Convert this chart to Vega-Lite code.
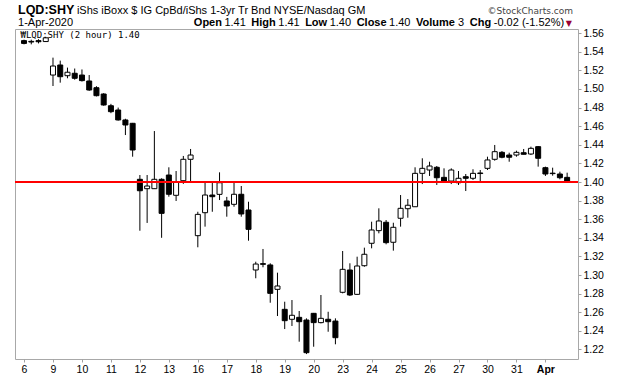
{
  "$schema": "https://vega.github.io/schema/vega-lite/v6.json",
  "width": 563,
  "height": 330,
  "autosize": {"type": "none"},
  "padding": {"left": 15, "top": 29, "right": 42, "bottom": 17},
  "background": "white",
  "config": {
    "view": {"stroke": "#a8a8a8", "strokeWidth": 1},
    "font": "Liberation Sans",
    "axis": {"labelOverlap": false, "labelBound": false, "labelFlush": false}
  },
  "datasets": {
    "one": [{}],
    "bars": [
      {"i":0,"o":1.552,"h":1.553,"l":1.548,"c":1.549},
      {"i":1,"o":1.5512,"h":1.553,"l":1.548,"c":1.5505},
      {"i":2,"o":1.552,"h":1.5535,"l":1.549,"c":1.5508},
      {"i":3,"o":1.551,"h":1.556,"l":1.5505,"c":1.555},
      {"i":4,"o":1.515,"h":1.5337,"l":1.5032,"c":1.5247},
      {"i":5,"o":1.5258,"h":1.5305,"l":1.5068,"c":1.5132},
      {"i":6,"o":1.5143,"h":1.523,"l":1.5115,"c":1.518},
      {"i":7,"o":1.5169,"h":1.522,"l":1.51,"c":1.5115},
      {"i":8,"o":1.515,"h":1.521,"l":1.508,"c":1.509},
      {"i":9,"o":1.5086,"h":1.515,"l":1.498,"c":1.4989},
      {"i":10,"o":1.5014,"h":1.503,"l":1.492,"c":1.4928},
      {"i":11,"o":1.4946,"h":1.4955,"l":1.482,"c":1.4828},
      {"i":12,"o":1.482,"h":1.484,"l":1.474,"c":1.4756},
      {"i":13,"o":1.4774,"h":1.48,"l":1.466,"c":1.4667},
      {"i":14,"o":1.4667,"h":1.468,"l":1.4505,"c":1.4613},
      {"i":15,"o":1.4631,"h":1.4635,"l":1.4272,"c":1.4344},
      {"i":16,"o":1.4029,"h":1.4075,"l":1.3476,"c":1.3906},
      {"i":17,"o":1.3928,"h":1.4075,"l":1.356,"c":1.3957},
      {"i":18,"o":1.3928,"h":1.4548,"l":1.3925,"c":1.4029},
      {"i":19,"o":1.4029,"h":1.404,"l":1.34,"c":1.3663},
      {"i":20,"o":1.4075,"h":1.4158,"l":1.3842,"c":1.3868},
      {"i":21,"o":1.3857,"h":1.4118,"l":1.3796,"c":1.4003},
      {"i":22,"o":1.4014,"h":1.428,"l":1.398,"c":1.4244},
      {"i":23,"o":1.4244,"h":1.4355,"l":1.4,"c":1.429},
      {"i":24,"o":1.3423,"h":1.368,"l":1.3298,"c":1.3652},
      {"i":25,"o":1.367,"h":1.399,"l":1.352,"c":1.386},
      {"i":26,"o":1.386,"h":1.399,"l":1.368,"c":1.3842},
      {"i":27,"o":1.3867,"h":1.4104,"l":1.3806,"c":1.3992},
      {"i":28,"o":1.3796,"h":1.384,"l":1.3627,"c":1.3742},
      {"i":29,"o":1.376,"h":1.399,"l":1.3734,"c":1.3868},
      {"i":30,"o":1.3868,"h":1.3957,"l":1.3627,"c":1.3656},
      {"i":31,"o":1.3699,"h":1.3788,"l":1.3369,"c":1.3491},
      {"i":32,"o":1.3054,"h":1.3143,"l":1.2965,"c":1.3118},
      {"i":33,"o":1.3122,"h":1.328,"l":1.3083,"c":1.3115},
      {"i":34,"o":1.3108,"h":1.3126,"l":1.2702,"c":1.2803},
      {"i":35,"o":1.2846,"h":1.3025,"l":1.2559,"c":1.2882},
      {"i":36,"o":1.2631,"h":1.2713,"l":1.2419,"c":1.2509},
      {"i":37,"o":1.2524,"h":1.2731,"l":1.2452,"c":1.2567},
      {"i":38,"o":1.2545,"h":1.2613,"l":1.2283,"c":1.2498},
      {"i":39,"o":1.2516,"h":1.2534,"l":1.215,"c":1.2165},
      {"i":40,"o":1.2588,"h":1.2592,"l":1.2229,"c":1.2488},
      {"i":41,"o":1.2488,"h":1.2785,"l":1.248,"c":1.2534},
      {"i":42,"o":1.2524,"h":1.2605,"l":1.239,"c":1.2498},
      {"i":43,"o":1.2505,"h":1.2534,"l":1.2255,"c":1.2326},
      {"i":44,"o":1.2814,"h":1.3258,"l":1.2803,"c":1.3061},
      {"i":45,"o":1.3054,"h":1.3126,"l":1.2774,"c":1.2785},
      {"i":46,"o":1.2792,"h":1.3197,"l":1.2785,"c":1.3097},
      {"i":47,"o":1.31,"h":1.3294,"l":1.3089,"c":1.3223},
      {"i":48,"o":1.3341,"h":1.3573,"l":1.3287,"c":1.3484},
      {"i":49,"o":1.3477,"h":1.3717,"l":1.3448,"c":1.3581},
      {"i":50,"o":1.3567,"h":1.3591,"l":1.333,"c":1.3348},
      {"i":51,"o":1.3352,"h":1.3562,"l":1.3262,"c":1.3513},
      {"i":52,"o":1.361,"h":1.386,"l":1.352,"c":1.3717},
      {"i":53,"o":1.3713,"h":1.3817,"l":1.3616,"c":1.375},
      {"i":54,"o":1.3734,"h":1.4158,"l":1.3734,"c":1.4093},
      {"i":55,"o":1.4093,"h":1.4255,"l":1.3978,"c":1.4147},
      {"i":56,"o":1.4129,"h":1.4218,"l":1.4065,"c":1.4172},
      {"i":57,"o":1.4158,"h":1.4172,"l":1.3968,"c":1.4046},
      {"i":58,"o":1.405,"h":1.4147,"l":1.401,"c":1.401},
      {"i":59,"o":1.401,"h":1.4147,"l":1.3978,"c":1.4129},
      {"i":60,"o":1.3992,"h":1.4118,"l":1.3968,"c":1.404},
      {"i":61,"o":1.4057,"h":1.4086,"l":1.3903,"c":1.404},
      {"i":62,"o":1.404,"h":1.4137,"l":1.4022,"c":1.4093},
      {"i":63,"o":1.4097,"h":1.4129,"l":1.4003,"c":1.4091},
      {"i":64,"o":1.4147,"h":1.4272,"l":1.4129,"c":1.4237},
      {"i":65,"o":1.4244,"h":1.4398,"l":1.4229,"c":1.4326},
      {"i":66,"o":1.4319,"h":1.4333,"l":1.4255,"c":1.4266},
      {"i":67,"o":1.429,"h":1.4315,"l":1.4218,"c":1.4266},
      {"i":68,"o":1.429,"h":1.4337,"l":1.4272,"c":1.4319},
      {"i":69,"o":1.4315,"h":1.4355,"l":1.4298,"c":1.4298},
      {"i":70,"o":1.4301,"h":1.438,"l":1.429,"c":1.4362},
      {"i":71,"o":1.438,"h":1.4387,"l":1.4165,"c":1.4255},
      {"i":72,"o":1.4154,"h":1.4165,"l":1.4065,"c":1.4086},
      {"i":73,"o":1.4095,"h":1.4154,"l":1.4068,"c":1.409},
      {"i":74,"o":1.4086,"h":1.4111,"l":1.4029,"c":1.4046},
      {"i":75,"o":1.405,"h":1.41,"l":1.4003,"c":1.401}
    ]
  },
  "layer": [
    {
      "data": {"name": "bars"},
      "mark": {"type": "rule", "color": "black", "strokeWidth": 1},
      "encoding": {
        "x": {
          "field": "i", "type": "quantitative",
          "scale": {"domain": [-0.556, 75.81], "nice": false, "zero": false},
          "axis": {
            "orient": "bottom", "title": null, "grid": false, "domain": false,
            "values": [0,4,8,12,16,20,24,28,32,36,40,44,48,52,56,60,64,68,72],
            "tickCount": 40,
            "labelExpr": "['6','9','10','11','12','13','16','17','18','19','20','23','24','25','26','27','30','31','Apr'][round(datum.value/4)]",
            "labelOverlap": false,
            "ticks": true, "tickSize": 3, "tickColor": "#a0a0a0",
            "labelFont": "Liberation Sans", "labelFontSize": 10.5, "labelColor": "black",
            "labelPadding": 2,
            "labelFontWeight": {"condition": {"test": "datum.value == 72", "value": "bold"}, "value": "normal"}
          }
        },
        "y": {
          "field": "l", "type": "quantitative",
          "scale": {"domain": [1.2097, 1.5645], "nice": false, "zero": false},
          "axis": {
            "orient": "right", "title": null, "grid": false, "domain": false,
            "values": [1.22,1.24,1.26,1.28,1.30,1.32,1.34,1.36,1.38,1.40,1.42,1.44,1.46,1.48,1.50,1.52,1.54,1.56],
            "tickCount": 40,
            "labelOverlap": false,
            "format": ".2f", "tickSize": 3, "tickColor": "#a0a0a0",
            "labelFont": "Liberation Sans", "labelFontSize": 10.5, "labelColor": "black",
            "labelPadding": 2
          }
        },
        "y2": {"field": "h"}
      }
    },
    {
      "data": {"name": "bars"},
      "mark": {"type": "bar", "size": 5, "stroke": "black", "strokeWidth": 1},
      "encoding": {
        "x": {"field": "i", "type": "quantitative"},
        "y": {"field": "o", "type": "quantitative"},
        "y2": {"field": "c"},
        "fill": {"condition": {"test": "datum.c >= datum.o", "value": "white"}, "value": "black"}
      }
    },
    {
      "data": {"name": "one"},
      "mark": {"type": "rule", "color": "#ff0000", "strokeWidth": 2},
      "encoding": {"y": {"datum": 1.40}}
    },
    {
      "data": {"name": "one"},
      "mark": {"type": "text", "align": "left", "baseline": "alphabetic", "font": "DejaVu Sans Mono", "fontSize": 9, "color": "black"},
      "encoding": {"x": {"datum": -0.49}, "y": {"datum": 1.5543}, "text": {"value": "₩LQD:SHY (2 hour) 1.40"}}
    },
    {
      "data": {"name": "one"},
      "mark": {"type": "text", "align": "left", "baseline": "alphabetic", "fontSize": 12.5, "fontWeight": "bold", "color": "black"},
      "encoding": {"x": {"datum": -0.83}, "y": {"datum": 1.5807}, "text": {"value": "LQD:SHY"}}
    },
    {
      "data": {"name": "one"},
      "mark": {"type": "text", "align": "left", "baseline": "alphabetic", "fontSize": 11, "color": "black"},
      "encoding": {"x": {"datum": 7.3}, "y": {"datum": 1.5807}, "text": {"value": "iShs iBoxx $ IG CpBd/iShs 1-3yr Tr Bnd NYSE/Nasdaq GM"}}
    },
    {
      "data": {"name": "one"},
      "mark": {"type": "text", "align": "right", "baseline": "alphabetic", "font": "DejaVu Sans", "fontSize": 9, "color": "#444444"},
      "encoding": {"x": {"datum": 75.81}, "y": {"datum": 1.5807}, "text": {"value": "©StockCharts.com"}}
    },
    {
      "data": {"name": "one"},
      "mark": {"type": "text", "align": "left", "baseline": "alphabetic", "fontSize": 11, "color": "black"},
      "encoding": {"x": {"datum": -0.83}, "y": {"datum": 1.5677}, "text": {"value": "1-Apr-2020"}}
    },
    {
      "data": {"name": "one"},
      "mark": {"type": "text", "align": "left", "baseline": "alphabetic", "fontSize": 11, "fontWeight": "bold", "color": "black"},
      "encoding": {"x": {"datum": 23.45}, "y": {"datum": 1.5677}, "text": {"value": "Open"}}
    },
    {
      "data": {"name": "one"},
      "mark": {"type": "text", "align": "left", "baseline": "alphabetic", "fontSize": 11, "color": "black"},
      "encoding": {"x": {"datum": 27.67}, "y": {"datum": 1.5677}, "text": {"value": "1.41"}}
    },
    {
      "data": {"name": "one"},
      "mark": {"type": "text", "align": "left", "baseline": "alphabetic", "fontSize": 11, "fontWeight": "bold", "color": "black"},
      "encoding": {"x": {"datum": 31.39}, "y": {"datum": 1.5677}, "text": {"value": "High"}}
    },
    {
      "data": {"name": "one"},
      "mark": {"type": "text", "align": "left", "baseline": "alphabetic", "fontSize": 11, "color": "black"},
      "encoding": {"x": {"datum": 35.11}, "y": {"datum": 1.5677}, "text": {"value": "1.41"}}
    },
    {
      "data": {"name": "one"},
      "mark": {"type": "text", "align": "left", "baseline": "alphabetic", "fontSize": 11, "fontWeight": "bold", "color": "black"},
      "encoding": {"x": {"datum": 38.82}, "y": {"datum": 1.5677}, "text": {"value": "Low"}}
    },
    {
      "data": {"name": "one"},
      "mark": {"type": "text", "align": "left", "baseline": "alphabetic", "fontSize": 11, "color": "black"},
      "encoding": {"x": {"datum": 42.21}, "y": {"datum": 1.5677}, "text": {"value": "1.40"}}
    },
    {
      "data": {"name": "one"},
      "mark": {"type": "text", "align": "left", "baseline": "alphabetic", "fontSize": 11, "fontWeight": "bold", "color": "black"},
      "encoding": {"x": {"datum": 45.93}, "y": {"datum": 1.5677}, "text": {"value": "Close"}}
    },
    {
      "data": {"name": "one"},
      "mark": {"type": "text", "align": "left", "baseline": "alphabetic", "fontSize": 11, "color": "black"},
      "encoding": {"x": {"datum": 50.41}, "y": {"datum": 1.5677}, "text": {"value": "1.40"}}
    },
    {
      "data": {"name": "one"},
      "mark": {"type": "text", "align": "left", "baseline": "alphabetic", "fontSize": 11, "fontWeight": "bold", "color": "black"},
      "encoding": {"x": {"datum": 54.12}, "y": {"datum": 1.5677}, "text": {"value": "Volume"}}
    },
    {
      "data": {"name": "one"},
      "mark": {"type": "text", "align": "left", "baseline": "alphabetic", "fontSize": 11, "color": "black"},
      "encoding": {"x": {"datum": 59.92}, "y": {"datum": 1.5677}, "text": {"value": "3"}}
    },
    {
      "data": {"name": "one"},
      "mark": {"type": "text", "align": "left", "baseline": "alphabetic", "fontSize": 11, "fontWeight": "bold", "color": "black"},
      "encoding": {"x": {"datum": 61.56}, "y": {"datum": 1.5677}, "text": {"value": "Chg"}}
    },
    {
      "data": {"name": "one"},
      "mark": {"type": "text", "align": "left", "baseline": "alphabetic", "fontSize": 11, "color": "black"},
      "encoding": {"x": {"datum": 64.87}, "y": {"datum": 1.5677}, "text": {"value": "-0.02 (-1.52%)"}}
    },
    {
      "data": {"name": "one"},
      "mark": {"type": "text", "align": "left", "baseline": "alphabetic", "font": "DejaVu Sans", "fontSize": 8, "color": "#990033"},
      "encoding": {"x": {"datum": 74.81}, "y": {"datum": 1.5677}, "text": {"value": "▼"}}
    }
  ]
}
